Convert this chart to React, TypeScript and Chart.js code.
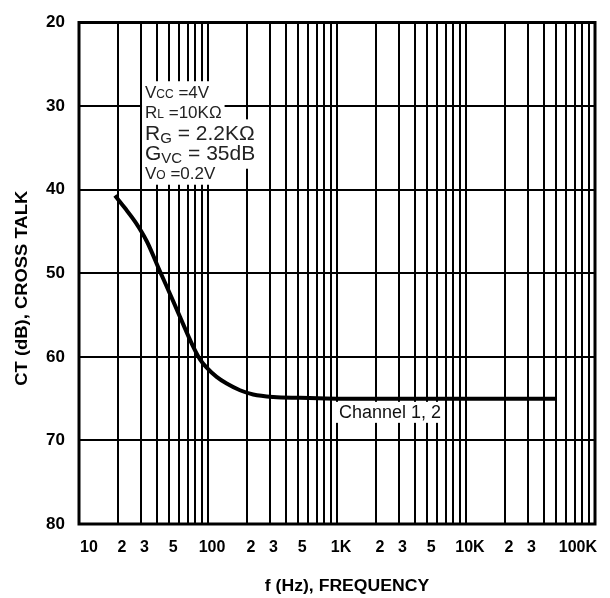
import { useEffect, useRef } from 'react';
import { Chart, registerables } from 'chart.js';

Chart.register(...registerables);

// ---- data ----
const frequencyHz = [19.0, 22.7, 27.7, 33.6, 42.5, 53.6, 66.3, 76.9, 86.7, 97.7, 116.7, 139.6, 177, 224, 321, 516, 1000, 3000, 10000, 30000, 49000];
const crossTalkDb = [40.7, 42.2, 44.0, 46.2, 49.8, 53.3, 56.6, 58.8, 60.3, 61.3, 62.4, 63.2, 64.0, 64.5, 64.8, 64.9, 65, 65, 65, 65, 65];

const xLabelValues = [10, 20, 30, 50, 100, 200, 300, 500, 1000, 2000, 3000, 5000, 10000, 20000, 30000, 100000];
const xLabelTexts = ['10', '2', '3', '5', '100', '2', '3', '5', '1K', '2', '3', '5', '10K', '2', '3', '100K'];
const yTickValues = [20, 30, 40, 50, 60, 70, 80];
const gridDecades = [10, 100, 1000, 10000];
const gridMultipliers = [1, 2, 3, 4, 5, 6, 7, 8, 9];
const gridTop = 100000;

const seriesName = 'Channel 1, 2';
const xTitle = 'f (Hz), FREQUENCY';
const yTitle = 'CT (dB), CROSS TALK';
const conditionMain = ['V', 'R', 'R', 'G', 'V'];
const conditionSub = ['CC', 'L', 'G', 'VC', 'O'];
const conditionRest = [' =4V', ' =10KΩ', ' = 2.2KΩ', ' = 35dB', ' =0.2V'];

const FONT = '"Liberation Sans", Arial, Helvetica, sans-serif';

const overlayPlugin = {
  id: 'overlay',
  afterDraw(chart: any) {
    const { ctx, chartArea: a, scales } = chart;
    const xs = scales.x;
    const ys = scales.y;
    ctx.save();

    // frame
    ctx.strokeStyle = '#000';
    ctx.lineWidth = 3;
    ctx.strokeRect(a.left, a.top, a.right - a.left, a.bottom - a.top);

    // x tick labels
    ctx.fillStyle = '#000';
    ctx.font = `bold 16px ${FONT}`;
    ctx.textBaseline = 'alphabetic';
    const last = xLabelValues.length - 1;
    xLabelValues.forEach((v, i) => {
      const px = xs.getPixelForValue(v);
      let x = px + 4;
      ctx.textAlign = 'center';
      if (i === 0) {
        ctx.textAlign = 'left';
        x = px + 1;
      } else if (i === last) {
        ctx.textAlign = 'right';
        x = px + 2;
      }
      ctx.fillText(xLabelTexts[i], x, a.bottom + 28);
    });

    // x title
    ctx.save();
    ctx.font = `bold 16px ${FONT}`;
    ctx.textAlign = 'center';
    ctx.translate((a.left + a.right) / 2 + 10, a.bottom + 67);
    ctx.scale(1.1, 1);
    ctx.fillText(xTitle, 0, 0);
    ctx.restore();

    // y title
    ctx.save();
    ctx.font = `bold 16px ${FONT}`;
    ctx.textAlign = 'center';
    ctx.translate(27, (a.top + a.bottom) / 2 + 15);
    ctx.rotate(-Math.PI / 2);
    ctx.scale(1.15, 1);
    ctx.fillText(yTitle, 0, 0);
    ctx.restore();

    // conditions block
    const cfg = chart.options.plugins.overlay;
    const ax = xs.getPixelForValue(cfg.condAnchorHz);
    const ay = ys.getPixelForValue(cfg.condAnchorDb);
    conditionMain.forEach((m, i) => {
      const base = ay + cfg.condLineOffsets[i];
      const ms = cfg.condMainSize[i];
      const ss = cfg.condSubSize[i];
      const dy = cfg.condSubDy[i];
      ctx.font = `${ms}px ${FONT}`;
      const wm = ctx.measureText(m).width;
      const wr = ctx.measureText(conditionRest[i]).width;
      ctx.font = `${ss}px ${FONT}`;
      const ws = ctx.measureText(conditionSub[i]).width;
      ctx.fillStyle = '#fff';
      ctx.fillRect(ax - 3, base - ms * 0.97, wm + ws + wr + 6, ms * 0.97 + 6 + dy);
    });
    conditionMain.forEach((m, i) => {
      const base = ay + cfg.condLineOffsets[i];
      const ms = cfg.condMainSize[i];
      const ss = cfg.condSubSize[i];
      const dy = cfg.condSubDy[i];
      ctx.fillStyle = '#222';
      ctx.textAlign = 'left';
      ctx.font = `${ms}px ${FONT}`;
      const wm = ctx.measureText(m).width;
      ctx.fillText(m, ax, base);
      ctx.font = `${ss}px ${FONT}`;
      const ws = ctx.measureText(conditionSub[i]).width;
      ctx.fillText(conditionSub[i], ax + wm, base + dy);
      ctx.font = `${ms}px ${FONT}`;
      ctx.fillText(conditionRest[i], ax + wm + ws, base);
    });

    // series label
    ctx.font = `18px ${FONT}`;
    const lx = xs.getPixelForValue(cfg.labelAnchorHz) + 2;
    const ly = ys.getPixelForValue(cfg.labelAnchorDb);
    const lw = ctx.measureText(seriesName).width;
    ctx.fillStyle = '#fff';
    ctx.fillRect(lx - 3, ly - 16, lw + 6, 21);
    ctx.fillStyle = '#111';
    ctx.textAlign = 'left';
    ctx.fillText(seriesName, lx, ly);

    ctx.restore();
  },
};

export default function App() {
  const canvasRef = useRef<HTMLCanvasElement | null>(null);

  useEffect(() => {
    const canvas = canvasRef.current;
    if (!canvas) return;
    const gridValues: number[] = [];
    gridDecades.forEach((d) => gridMultipliers.forEach((m) => gridValues.push(m * d)));
    gridValues.push(gridTop);

    const chart = new Chart(canvas, {
      type: 'line',
      data: {
        datasets: [
          {
            label: seriesName,
            data: frequencyHz.map((f, i) => ({ x: f, y: crossTalkDb[i] })),
            borderColor: '#000',
            borderWidth: 4,
            pointRadius: 0,
            fill: false,
            cubicInterpolationMode: 'monotone',
          },
        ],
      },
      options: {
        animation: false,
        responsive: false,
        devicePixelRatio: 1,
        layout: { padding: { top: 9, right: 15, left: 0, bottom: 0 } },
        plugins: {
          legend: { display: false },
          tooltip: { enabled: false },
          overlay: {
            condAnchorHz: 32.5,
            condAnchorDb: 29.0,
            condLineOffsets: [0, 20, 42, 62, 81],
            condMainSize: [17, 17, 21, 21, 17],
            condSubSize: [12, 12, 15, 15, 12],
            condSubDy: [0, 0, 3, 3, 0],
            labelAnchorHz: 1000,
            labelAnchorDb: 67.3,
          },
        } as any,
        scales: {
          x: {
            type: 'logarithmic',
            min: 10,
            max: 100000,
            ticks: { display: false, autoSkip: false },
            grid: { color: '#000', lineWidth: 2, drawTicks: false },
            border: { display: false },
            afterBuildTicks: (scale: any) => {
              scale.ticks = gridValues.map((value) => ({ value }));
            },
            afterFit: (scale: any) => {
              scale.height = 74;
            },
          },
          y: {
            type: 'linear',
            reverse: true,
            min: 20,
            max: 80,
            afterBuildTicks: (scale: any) => {
              scale.ticks = yTickValues.map((value) => ({ value }));
            },
            ticks: {
              color: '#000',
              padding: 14,
              font: { family: FONT, size: 17, weight: 'bold', lineHeight: 1 },
            },
            grid: { color: '#000', lineWidth: 2, drawTicks: false },
            border: { display: false },
            afterFit: (scale: any) => {
              scale.width = 79;
            },
          },
        },
      } as any,
      plugins: [overlayPlugin],
    });
    return () => chart.destroy();
  }, []);

  return (
    <div style={{ position: 'absolute', left: 0, top: 0, width: 610, height: 598, background: '#fff' }}>
      <canvas ref={canvasRef} width={610} height={598} />
    </div>
  );
}
